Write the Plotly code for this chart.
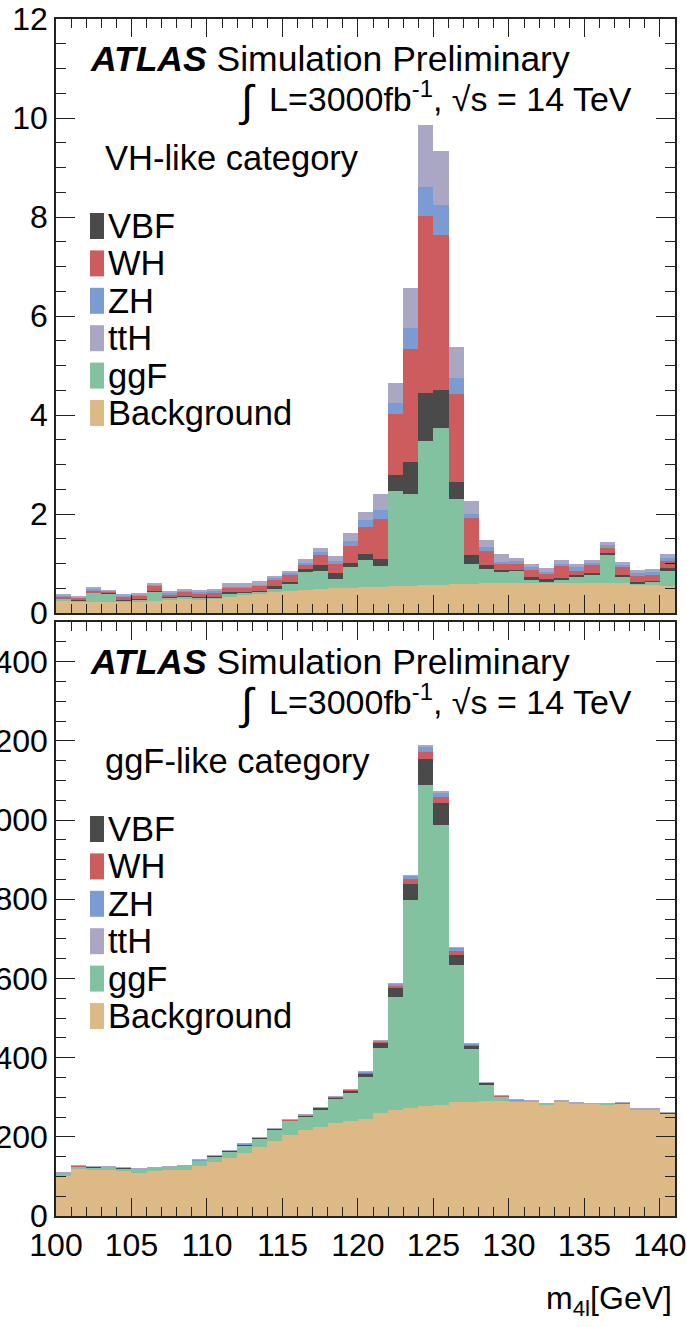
import plotly.graph_objects as go

# ---------------- data ----------------
bin_low = list(range(100, 141))  # m4l bin lower edges [GeV], 1 GeV bins
series_names = ["Background", "ggF", "VBF", "WH", "ZH", "ttH"]  # stack order bottom->top
legend_order = ["VBF", "WH", "ZH", "ttH", "ggF", "Background"]

# VH-like category (top panel)
vh_bkg = [.24, .24, .23, .23, .24, .24, .25, .26, .28, .28, .30, .33, .36, .40, .43, .45, .46, .48, .50, .51, .52,
          .53, .54, .55, .56, .57, .58, .59, .60, .60, .61, .61, .61, .61, .60, .60, .60, .60, .58, .57, .55]
vh_ggf = [.05, .02, .18, .17, .02, .04, .18, .06, .05, .04, .02, .07, .05, .03, .07, .14, .37, .37, .19, .41, .55,
          .41, 1.92, 1.85, 2.91, 3.16, 1.72, .40, .29, .22, .24, .06, .02, .07, .13, .18, .59, .13, .01, .06, .30]
vh_vbf = [.01, .01, .01, .01, .01, .01, .02, .02, .02, .01, .01, .02, .02, .02, .04, .04, .05, .12, .11, .10, .12,
          .15, .33, .66, .98, .78, .35, .18, .07, .05, .02, .06, .05, .03, .03, .02, .02, .03, .04, .02, .06]
vh_wh = [.03, .04, .04, .03, .06, .06, .10, .04, .08, .07, .09, .09, .08, .10, .13, .14, .09, .20, .20, .33, .55,
         .81, 1.24, 2.27, 3.58, 3.13, 1.77, .74, .30, .13, .13, .15, .12, .23, .09, .17, .10, .16, .12, .12, .14]
vh_zh = [.02, .01, .03, .01, .03, .03, .02, .03, .03, .03, .03, .02, .02, .02, .05, .03, .05, .06, .06, .10, .14,
         .18, .21, .42, .58, .60, .33, .10, .08, .04, .05, .04, .03, .06, .07, .05, .06, .05, .05, .05, .07]
vh_tth = [.02, .01, .03, .01, .02, .02, .02, .02, .02, .02, .03, .07, .07, .08, .03, .05, .07, .08, .10, .16, .16,
          .32, .41, .81, 1.25, 1.10, .62, .26, .13, .15, .07, .08, .07, .08, .08, .06, .07, .07, .07, .07, .07]

# ggF-like category (bottom panel)
gg_bkg = [100, 118, 118, 117, 114, 109, 114, 115, 116, 127, 137, 146, 160, 173, 190, 205, 217, 225, 236, 239, 246,
          259, 267, 274, 277, 280, 287, 288, 290, 290, 289, 290, 282, 290, 285, 283, 282, 284, 270, 270, 259]
gg_ggf = [9, 7, 5, 7, 7, 10, 8, 9, 11, 13, 14, 18, 19, 23, 28, 35, 35, 45, 61, 73, 105,
          166, 285, 524, 811, 708, 347, 133, 43, 12, 3, 1, 1, 1, 1, 1, 1, 1, 1, 1, 1]
gg_vbf = [1, 1, 1, 1, 1, 1, 1, 1, 1, 1, 1, 1, 2, 2, 2, 2, 2, 3, 3, 5, 10,
          12, 23, 40, 66, 55, 26, 10, 3, 1, .5, .3, .3, .3, .3, .3, .3, .3, .3, .3, .3]
gg_wh = [.3, .3, .3, .3, .3, .3, .3, .3, .3, .4, .4, .5, .5, .6, .7, .8, .9, 1, 1.2, 1.5, 1.5,
         3, 6, 14, 17, 15, 8, 2, 1, .5, .3, .3, .3, .3, .3, .3, .3, .3, .3, .3, .3]
gg_zh = [.2, .2, .2, .2, .2, .2, .2, .2, .2, .3, .3, .3, .4, .4, .5, .5, .6, .7, .8, 1, 1.5,
         3, 6, 8, 15, 12, 9, 2, 1, .4, .2, .2, .2, .2, .2, .2, .2, .2, .2, .2, .2]
gg_tth = [.1, .1, .1, .1, .1, .1, .1, .1, .1, .1, .1, .1, .1, .1, .1, .1, .1, .1, .2, .2, .3,
          .4, .6, 1, 2, 2, 1, .3, .2, .1, .1, .1, .1, .1, .1, .1, .1, .1, .1, .1, .1]

colors = {
    "Background": "#dcb985",
    "ggF": "#83c2a0",
    "VBF": "#4a4a4a",
    "WH": "#cd5c5e",
    "ZH": "#7b9bd3",
    "ttH": "#aaa7c4",
}

vh = {"Background": vh_bkg, "ggF": vh_ggf, "VBF": vh_vbf, "WH": vh_wh, "ZH": vh_zh, "ttH": vh_tth}
gg = {"Background": gg_bkg, "ggF": gg_ggf, "VBF": gg_vbf, "WH": gg_wh, "ZH": gg_zh, "ttH": gg_tth}

# ---------------- layout geometry (pixels) ----------------
W, H = 687, 1327
L, R, T, B = 56, 12, 19, 111
PW, PH = W - L - R, H - T - B
top_panel_top, top_panel_bot = 19, 613
bot_panel_top, bot_panel_bot = 622, 1216


def xp(px):
    return (px - L) / PW


def yp(py):
    return (H - B - py) / PH


FONT = "Liberation Sans, Arial, Helvetica, sans-serif"

fig = go.Figure()
for name in series_names:
    fig.add_trace(go.Bar(x=bin_low, y=vh[name], offset=0, width=1, name=name,
                         marker=dict(color=colors[name], line=dict(width=0)),
                         xaxis="x2", yaxis="y", showlegend=False))
for name in series_names:
    fig.add_trace(go.Bar(x=bin_low, y=gg[name], offset=0, width=1, name=name,
                         marker=dict(color=colors[name], line=dict(width=0)),
                         xaxis="x", yaxis="y2", showlegend=False))

minor_common = dict(ticks="inside", tickcolor="#222222", tickwidth=1.3, showgrid=False)
axis_common = dict(showline=True, linecolor="#222222", linewidth=1.5, mirror="ticks",
                   ticks="inside", tickcolor="#222222", tickwidth=1.3, showgrid=False,
                   zeroline=False, automargin=False,
                   tickfont=dict(family=FONT, size=32, color="black"))

fig.update_layout(
    width=W, height=H,
    margin=dict(l=L, r=R, t=T, b=B, pad=0, autoexpand=False),
    paper_bgcolor="white", plot_bgcolor="white",
    barmode="stack", bargap=0,
    showlegend=False,
    font=dict(family=FONT, color="black"),
    xaxis=dict(domain=[0, 1], anchor="y2", range=[100, 141], tick0=100, dtick=5, ticklen=18,
               minor=dict(dtick=1, ticklen=9, **minor_common), **axis_common),
    xaxis2=dict(domain=[0, 1], anchor="y", range=[100, 141], tick0=100, dtick=5, ticklen=18,
                matches="x", showticklabels=False,
                minor=dict(dtick=1, ticklen=9, **minor_common), **axis_common),
    yaxis=dict(domain=[yp(top_panel_bot), yp(top_panel_top)], anchor="x2", range=[0, 12],
               tick0=0, dtick=2, ticklen=19,
               minor=dict(dtick=0.5, ticklen=10, **minor_common), **axis_common),
    yaxis2=dict(domain=[yp(bot_panel_bot), yp(bot_panel_top)], anchor="x", range=[0, 1500],
                tick0=0, dtick=200, ticklen=19,
                minor=dict(dtick=50, ticklen=10, **minor_common), **axis_common),
)

annotations = []
shapes = []


def add_text(text, px, py, size, xanchor="left"):
    annotations.append(dict(text=text, x=xp(px), y=yp(py), xref="paper", yref="paper",
                            xanchor=xanchor, yanchor="middle", showarrow=False,
                            font=dict(family=FONT, size=size, color="black")))


for ptop, cat in [(top_panel_top, "VH-like category"), (bot_panel_top, "ggF-like category")]:
    add_text("<b><i>ATLAS</i></b> Simulation Preliminary", 88, ptop + 40, 35.5)
    add_text("L=3000fb<sup>-1</sup>, √s = 14 TeV", 634, ptop + 77, 34, xanchor="right")
    add_text("∫", 258, ptop + 82, 44, xanchor="right")
    add_text(cat, 103, ptop + 139, 34.5)
    for k, name in enumerate(legend_order):
        cy = ptop + 207 + 37.4 * k
        shapes.append(dict(type="rect", xref="paper", yref="paper",
                           x0=xp(90), x1=xp(104), y0=yp(cy + 13), y1=yp(cy - 13),
                           fillcolor=colors[name], line=dict(width=0)))
        add_text(name, 106, cy, 34.5)

add_text("m<sub>4l</sub>[GeV]", 674, 1300, 32, xanchor="right")

fig.update_layout(annotations=annotations, shapes=shapes)
fig.write_html("out.html")
